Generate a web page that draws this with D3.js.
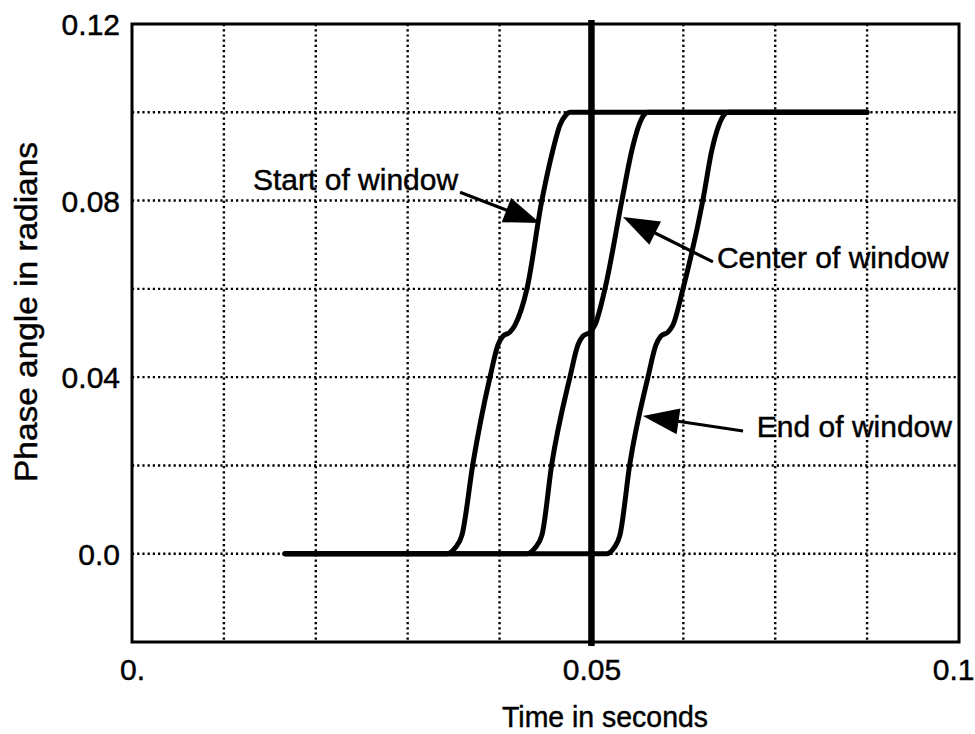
<!DOCTYPE html>
<html>
<head>
<meta charset="utf-8">
<script src="https://cdn.jsdelivr.net/npm/d3@7"></script>
<style>
  html, body { margin: 0; padding: 0; background: #fff; }
  svg { display: block; }
  text { font-family: "Liberation Sans", Arial, Helvetica, sans-serif; fill: #000; stroke: #000; stroke-width: 0.45px; }
</style>
</head>
<body>
<svg id="chart" width="975" height="734"></svg>
<script>
// ---- data (time in seconds, phase angle in radians) ----
const startTime  = [0.01665, 0.03428, 0.03515, 0.03591, 0.03711, 0.03896, 0.03983, 0.04037, 0.04113, 0.04168, 0.04298, 0.04461, 0.04581, 0.04657, 0.04722, 0.04766, 0.07998];
const startPhase = [0, 0, 0.0013, 0.0042, 0.0205, 0.0400, 0.0473, 0.0493, 0.0502, 0.0518, 0.0600, 0.0801, 0.0915, 0.0971, 0.0994, 0.1, 0.1];

const centerTime  = [0.01665, 0.04298, 0.04385, 0.04461, 0.04570, 0.04766, 0.04853, 0.04907, 0.04984, 0.05038, 0.05147, 0.05332, 0.05441, 0.05517, 0.05571, 0.05615, 0.07998];
const centerPhase = [0, 0, 0.0013, 0.0042, 0.0205, 0.0400, 0.0473, 0.0493, 0.0502, 0.0518, 0.0600, 0.0801, 0.0915, 0.0971, 0.0994, 0.1, 0.1];

const endTime  = [0.01665, 0.05169, 0.05245, 0.05310, 0.05419, 0.05615, 0.05702, 0.05756, 0.05832, 0.05887, 0.05996, 0.06213, 0.06311, 0.06387, 0.06442, 0.06485, 0.07998];
const endPhase = [0, 0, 0.0013, 0.0042, 0.0205, 0.0400, 0.0473, 0.0493, 0.0502, 0.0518, 0.0600, 0.0801, 0.0915, 0.0971, 0.0994, 0.1, 0.1];

const windowCenter = 0.05;

const xTickValues = [0, 0.05, 0.09];
const xTickLabels = ["0.", "0.05", "0.1"];
const yTickValues = [0, 0.04, 0.08, 0.12];
const yTickLabels = ["0.0", "0.04", "0.08", "0.12"];
const xGridValues = [0.01, 0.02, 0.03, 0.04, 0.06, 0.07, 0.08];
const yGridValues = [0, 0.02, 0.04, 0.06, 0.08, 0.10];

const annotationLabels = ["Start of window", "Center of window", "End of window"];
const annotationTextAt = [[0.01317, 0.0824], [0.06366, 0.0647], [0.0680, 0.0265]];
const annotationTail   = [[0.0357, 0.0819], [0.06322, 0.0661], [0.0665, 0.0278]];
const annotationTip    = [[0.0444, 0.0749], [0.05343, 0.0763], [0.0556, 0.0312]];

// ---- layout ----
const svg = d3.select("#chart");
const plotLeft = 132, plotRight = 959, plotTop = 24, plotBottom = 642;

const x = d3.scaleLinear().domain([0, 0.09]).range([plotLeft, plotRight]);
const y = d3.scaleLinear().domain([-0.02, 0.12]).range([plotBottom, plotTop]);

// grid
const grid = svg.append("g").attr("stroke", "#000").attr("stroke-width", 2.4)
  .attr("stroke-dasharray", "2.2,3").attr("fill", "none");
grid.selectAll("line.v").data(xGridValues).join("line").attr("class", "v")
  .attr("x1", d => x(d)).attr("x2", d => x(d)).attr("y1", plotTop).attr("y2", plotBottom);
grid.selectAll("line.h").data(yGridValues).join("line").attr("class", "h")
  .attr("x1", plotLeft).attr("x2", plotRight).attr("y1", d => y(d)).attr("y2", d => y(d));

// frame
svg.append("rect").attr("x", plotLeft).attr("y", plotTop)
  .attr("width", plotRight - plotLeft).attr("height", plotBottom - plotTop)
  .attr("fill", "none").attr("stroke", "#000").attr("stroke-width", 3);

// thick window-center line
svg.append("line").attr("x1", x(windowCenter)).attr("x2", x(windowCenter))
  .attr("y1", plotTop - 4).attr("y2", plotBottom + 4).attr("stroke", "#000").attr("stroke-width", 6.5);

// curves
const line = d3.line().x(d => x(d[0])).y(d => y(d[1])).curve(d3.curveMonotoneX);
const series = [
  d3.zip(startTime, startPhase),
  d3.zip(centerTime, centerPhase),
  d3.zip(endTime, endPhase)
];
svg.append("g").selectAll("path").data(series).join("path")
  .attr("d", line).attr("fill", "none").attr("stroke", "#000")
  .attr("stroke-width", 5).attr("stroke-linejoin", "round").attr("stroke-linecap", "round");

// axes tick labels
const xAxis = d3.axisBottom(x).tickValues(xTickValues).tickSize(0)
  .tickFormat((d, i) => xTickLabels[i]);
const gx = svg.append("g").attr("transform", `translate(0,${plotBottom})`).call(xAxis);
gx.select(".domain").remove();
gx.selectAll("text").attr("font-size", 30).attr("dy", null).attr("y", 38)
  .style("font-family", '"Liberation Sans", Arial, sans-serif');
// last label sits against the right edge of the picture
gx.selectAll("text").filter((d, i) => i === xTickValues.length - 1)
  .attr("text-anchor", "end").attr("x", 15);

const yAxis = d3.axisLeft(y).tickValues(yTickValues).tickSize(0)
  .tickFormat((d, i) => yTickLabels[i]);
const gy = svg.append("g").attr("transform", `translate(${plotLeft},0)`).call(yAxis);
gy.select(".domain").remove();
gy.selectAll("text").attr("font-size", 30).attr("x", -12).attr("dy", "0.35em")
  .style("font-family", '"Liberation Sans", Arial, sans-serif');

// axis titles
svg.append("text").attr("x", 605).attr("y", 727).attr("text-anchor", "middle")
  .attr("font-size", 29).attr("textLength", 206).attr("lengthAdjust", "spacingAndGlyphs")
  .text("Time in seconds");
svg.append("text").attr("transform", "translate(37,312) rotate(-90)").attr("text-anchor", "middle")
  .attr("font-size", 31).attr("textLength", 340).attr("lengthAdjust", "spacingAndGlyphs")
  .text("Phase angle in radians");

// annotations
const ann = svg.append("g");
annotationLabels.forEach((label, i) => {
  ann.append("text").attr("x", x(annotationTextAt[i][0])).attr("y", y(annotationTextAt[i][1]))
    .attr("font-size", 30).text(label);
  const x0 = x(annotationTail[i][0]), y0 = y(annotationTail[i][1]);
  const x1 = x(annotationTip[i][0]),  y1 = y(annotationTip[i][1]);
  const dx = x1 - x0, dy = y1 - y0, L = Math.hypot(dx, dy);
  const ux = dx / L, uy = dy / L;
  const headLen = 36, headHalf = 13;
  const bx = x1 - ux * headLen, by = y1 - uy * headLen;
  ann.append("line").attr("x1", x0).attr("y1", y0).attr("x2", bx + ux * 4).attr("y2", by + uy * 4)
    .attr("stroke", "#000").attr("stroke-width", 3.2);
  ann.append("path")
    .attr("d", `M${x1},${y1}L${bx - uy * headHalf},${by + ux * headHalf}L${bx + uy * headHalf},${by - ux * headHalf}Z`)
    .attr("fill", "#000");
});
</script>
</body>
</html>
